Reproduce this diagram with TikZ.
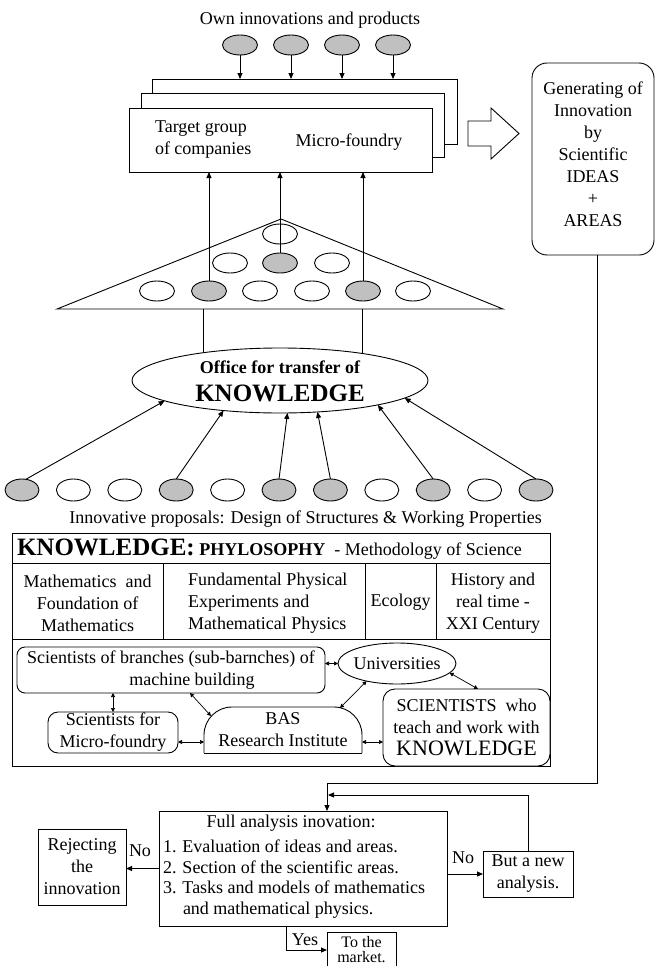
\documentclass[tikz,border=0pt]{standalone}
\usepackage{fontspec}
\setmainfont{Liberation Serif}
\usetikzlibrary{arrows.meta,calc,shapes.geometric}
\definecolor{ellgray}{RGB}{192,192,192}
\begin{document}
\begin{tikzpicture}[x=1pt,y=-1pt,
  every node/.style={inner sep=0pt, outer sep=0pt},
  txt/.style={font=\fontsize{18}{22}\selectfont},
  ln/.style={line width=0.9pt},
  arr/.style={ln,-{Triangle[length=6pt,width=5pt]}},
  dbl/.style={line width=0.7pt,{Triangle[length=4pt,width=4pt]}-{Triangle[length=4pt,width=4pt]}},
  gov/.style={ellipse, draw, line width=0.9pt, fill=ellgray, minimum width=35pt, minimum height=20pt},
  wov/.style={ellipse, draw, line width=0.9pt, fill=white, minimum width=35pt, minimum height=20pt},
  box/.style={draw, line width=0.9pt, fill=white, txt},
]
\useasboundingbox (0,0) rectangle (655,966);
% top
\node[txt] (title) at (310,20) {Own innovations and products};
\foreach \i/\x in {1/240,2/291,3/342,4/393} \node[gov] (t\i) at (\x,45) {};
\node[box, minimum width=305pt, minimum height=65pt] (bk2) at (304.5,111.5) {};
\node[box, minimum width=303pt, minimum height=64pt] (bk1) at (292.5,125) {};
\node[box, minimum width=303pt, minimum height=64pt] (front) at (280.5,140) {};
\node[txt, align=left, anchor=west] (tg) at (155,140) {Target group\\of companies};
\node[txt] (mf) at (349,142) {Micro-foundry};
\foreach \i in {1,...,4} \draw[arr] (t\i.south) -- (t\i.south |- bk2.north);
% block arrow
\draw[ln] (468,121) -- (491,121) -- (491,108) -- (519,133.5) -- (491,159) -- (491,146) -- (468,146) -- cycle;
% generating box
\node[box, rounded corners=15pt, minimum width=122pt, minimum height=192pt] (gen) at (593,159) {};
\node[txt, align=center] (gent) at (593,154) {Generating of\\Innovation\\by\\Scientific\\IDEAS\\+\\AREAS};
% triangle
\coordinate (apex) at (281,219);
\coordinate (triL) at (57,309);
\coordinate (triR) at (503,309);
\draw[ln] (triL) -- (apex) -- (triR) -- cycle;
\node[wov] (tr1) at (280,234) {};
\node[wov] (tr2) at (230,263) {};
\node[gov] (tr3) at (280,263) {};
\node[wov] (tr4) at (332,263) {};
\foreach \i/\x/\s in {5/157/wov,6/209/gov,7/260/wov,8/312/wov,9/363/gov,10/413/wov}
  \node[\s] (tr\i) at (\x,291) {};
\foreach \i in {3,6,9} \draw[arr] (tr\i.north) -- (tr\i.north |- front.south);
% office
\node[ellipse, draw, ln, fill=white, minimum width=296pt, minimum height=65pt] (office) at (280,380.5) {};
\node[font=\bfseries\fontsize{18}{22}\selectfont] (of1) at (280,367) {Office for transfer of};
\node[font=\bfseries\fontsize{25}{28}\selectfont] (of2) at (280,393) {KNOWLEDGE};
\draw[ln] (office.160.5) -- (office.160.5 |- triL);
\draw[ln] (office.18.6) -- (office.18.6 |- triL);
% bottom ellipses
\foreach \i/\x/\s in {1/22/gov,2/73.4/wov,3/124.8/wov,4/176.2/gov,5/227.6/wov,6/279/gov,7/330.4/gov,8/381.8/wov,9/433.2/gov,10/484.6/wov,11/536/gov}
  \node[\s, minimum width=34pt, minimum height=22pt] (b\i) at (\x,490) {};
\draw[arr] (b1.70) -- (office.190);
\draw[arr] (b4.north) -- (office.208);
\draw[arr] (b6.north) -- (office.283);
\draw[arr] (b7.north) -- (office.320);
\draw[arr] (b9.north) -- (office.346);
\draw[arr] (b11.north) -- (office.352);
\node[txt] (prop) at (305.5,519) {Innovative proposals: Design of Structures \& Working Properties};
% table
\node[draw, ln, minimum width=538pt, minimum height=233pt] (table) at (281,649.5) {};
\draw[ln] (12,563) -- (550,563);
\draw[ln] (12,639) -- (550,639);
\draw[ln] (163,563) -- (163,639);
\draw[ln] (365,563) -- (365,639);
\draw[ln] (436,563) -- (436,639);
\node[txt, anchor=west] (kn) at (17,549) {{\bfseries\fontsize{25}{28}\selectfont KNOWLEDGE:} {\bfseries PHYLOSOPHY}\ \ - Methodology of Science};
\node[txt, align=center] (c1) at (87.5,603) {Mathematics\ \ and\\Foundation of\\Mathematics};
\node[txt, align=left, anchor=west] (c2) at (188,603) {Fundamental Physical\\Experiments and\\Mathematical Physics};
\node[txt] (c3) at (400.5,602) {Ecology};
\node[txt, align=center] (c4) at (493,603) {History and\\real time -\\XXI Century};
% inner nodes
\node[box, rounded corners=8pt, minimum width=308pt, minimum height=46pt, align=center] (sb) at (171,670) {Scientists of branches (sub-barnches) of\\\hspace*{42pt}machine building};
\node[box, rounded corners=10pt, minimum width=130pt, minimum height=41pt, align=center] (smf) at (113,732.5) {Scientists for\\Micro-foundry};
\node[txt, minimum width=158pt, minimum height=46pt, align=center] (bas) at (283,730) {BAS\\Research Institute};
\draw[ln, rounded corners=28pt] (bas.south west) -- (bas.north west) -- (bas.north east) -- (bas.south east);
\draw[ln] (bas.south west) -- (bas.south east);
\node[ellipse, draw, ln, minimum width=118pt, minimum height=41pt] (uni) at (397,663.5) {};
\node[txt] (unit) at (397,663.5) {Universities};
\node[box, rounded corners=12pt, minimum width=167pt, minimum height=77pt] (sci) at (466.5,727.5) {};
\node[txt, align=center] (scit) at (466.5,727) {SCIENTISTS\ \ who\\teach and work with\\{\fontsize{22}{26}\selectfont KNOWLEDGE}};
\draw[dbl] (smf.north |- sb.south) -- (smf.north);
\coordinate (sm1) at ($(smf.east)+(0,9.5)$);
\draw[dbl] (sm1) -- (sm1 -| bas.west);
\coordinate (bs1) at ($(bas.east)+(0,12)$);
\draw[dbl] (bs1) -- (bs1 -| sci.west);
\draw[dbl] (uni.west -| sb.east) -- (uni.west);
\draw[dbl] ($(sb.south)+(19,0)$) -- ($(bas.north west)+(7,9)$);
\draw[dbl] (uni.210) -- ($(bas.north east)+(-22,1)$);
\draw[dbl] (uni.350) -- ($(sci.north)+(11.5,0)$);
% bottom flow
\node[box, minimum width=288pt, minimum height=115pt] (fa) at (303,868.5) {};
\node[txt] (fa0) at (291,823) {Full analysis inovation:};
\node[anchor=west, align=left, font=\fontsize{18}{20.6}\selectfont] (fa1) at (163,879) {1. Evaluation of ideas and areas.\\2. Section of the scientific areas.\\3. Tasks and models of mathematics\\\hspace*{20pt}and mathematical physics.};
\node[box, minimum width=88pt, minimum height=76pt, align=center] (rej) at (82,867) {Rejecting\\the\\innovation};
\node[box, minimum width=90pt, minimum height=46pt, align=center] (ban) at (528,874) {But a new\\analysis.};
\node[box, minimum width=69pt, minimum height=36pt] (mkt) at (361.5,950) {};
\node[align=center, font=\fontsize{16}{15}\selectfont] (mktt) at (361.5,949.5) {To the\\market.};
\coordinate (gb) at ($(gen.south)+(4,0)$);
\coordinate (j1) at (327,783);
\draw[ln] (gb) |- (j1);
\draw[arr] (j1) -- (j1 |- fa.north);
\coordinate (j2) at (328,795);
\draw[arr] (ban.north) |- (j2);
\draw[arr] (fa.west) -- (fa.west -| rej.east);
\node[txt] (no1) at (140,851) {No};
\draw[arr] (ban.west -| fa.east) -- (ban.west);
\node[txt] (no2) at (463,858) {No};
\coordinate (ys) at ($(fa.south)+(-17,0)$);
\draw[arr] (ys) |- (mkt.west);
\node[txt] (yes) at (305,940) {Yes};
\end{tikzpicture}
\end{document}
